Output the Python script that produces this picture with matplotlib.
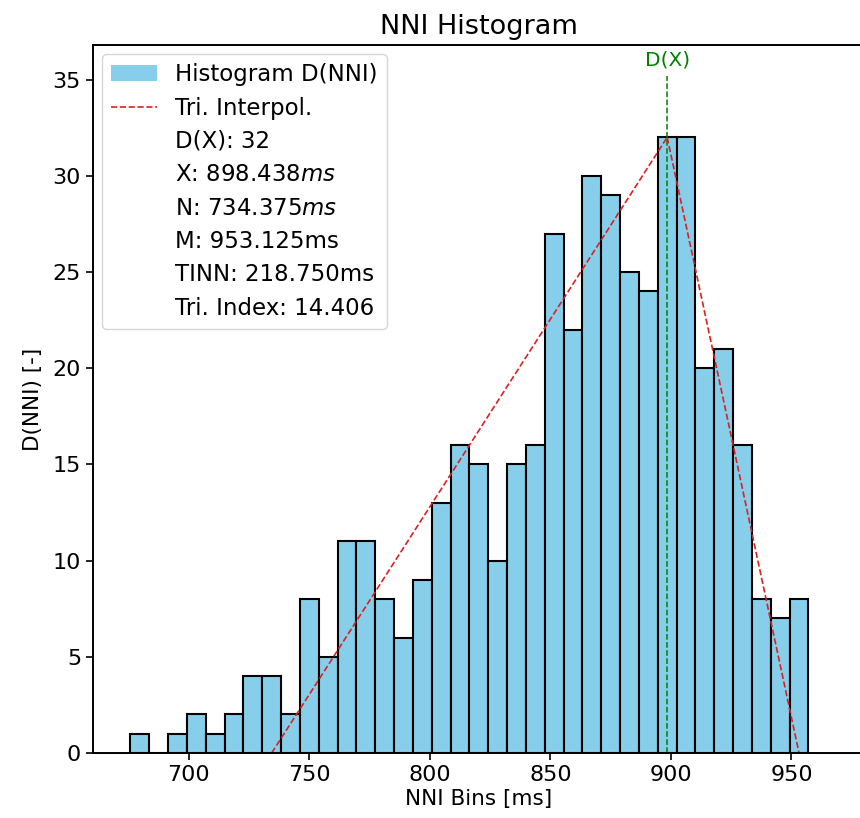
import numpy as np
import matplotlib
matplotlib.use("Agg")
import matplotlib.pyplot as plt
import matplotlib.patches as mpatches

# NNI histogram values (bin width 7.8125 ms = 1/128 s)
binsize = 7.8125
first_bin = 679.6875
counts = [1, 0, 1, 2, 1, 2, 4, 4, 2, 8, 5, 11, 11, 8, 6, 9, 13, 16,
          15, 10, 15, 16, 27, 22, 30, 29, 25, 24, 32, 32, 20, 21, 16, 8, 7, 8]

# triangular interpolation parameters
tri_N = 734.375
tri_X = 898.438
tri_M = 953.125
tri_D = 32
tinn = 218.750
tri_index = 14.406

x_ticks = [700, 750, 800, 850, 900, 950]
y_ticks = [0, 5, 10, 15, 20, 25, 30, 35]

bins = first_bin + binsize * np.arange(len(counts))

fig = plt.figure(figsize=(8.6, 8.18), dpi=100)
ax = fig.add_axes([0.108, 0.0795, 0.897, 0.8655])

# histogram bars, centred on the bin values
ax.bar(bins, counts, width=binsize, color='skyblue', edgecolor='black',
       linewidth=1.5, align='center')

# triangle lines
ax.plot([tri_N, tri_X], [0, tri_D], '--', color='#dd2020', linewidth=1.2)
ax.plot([tri_X, tri_M], [tri_D, 0], '--', color='#dd2020', linewidth=1.2)

# marker for X
ax.vlines(tri_X, 0, tri_D * 1.1, colors='g', linestyles='--', linewidth=1.1)
ax.text(tri_X, tri_D * 1.11, 'D(X)', color='g', ha='center', va='bottom',
        fontsize=14.5)

ax.set_xlim(660.2, 980.2)
ax.set_ylim(0, tri_D * 1.15)
ax.set_xticks(x_ticks)
ax.set_yticks(y_ticks)
ax.tick_params(labelsize=16, length=5, width=1.2)
for s in ax.spines.values():
    s.set_linewidth(1.4)

ax.set_title('NNI Histogram', fontsize=19.5, pad=8)
ax.set_xlabel('NNI Bins [ms]', fontsize=15.5, labelpad=3)
ax.set_ylabel('D(NNI) [-]', fontsize=15.5, labelpad=7)

# legend with the computed values as extra rows
blank = mpatches.Patch(facecolor='white', alpha=0.0)
handles = [mpatches.Patch(facecolor='skyblue'),
           plt.Line2D([], [], color='#dd2020', linestyle='--', linewidth=1.2)] + [blank] * 6
labels = ['Histogram D(NNI)', 'Tri. Interpol.',
          'D(X): %i' % tri_D,
          'X: %.3f$ms$' % tri_X,
          'N: %.3f$ms$' % tri_N,
          'M: %.3fms' % tri_M,
          'TINN: %.3fms' % tinn,
          'Tri. Index: %.3f' % tri_index]
ax.legend(handles, labels, loc='upper left', fontsize=16.5, handlelength=2.0,
          borderaxespad=0.4, labelspacing=0.45)

fig.savefig('out.png', dpi=100)
